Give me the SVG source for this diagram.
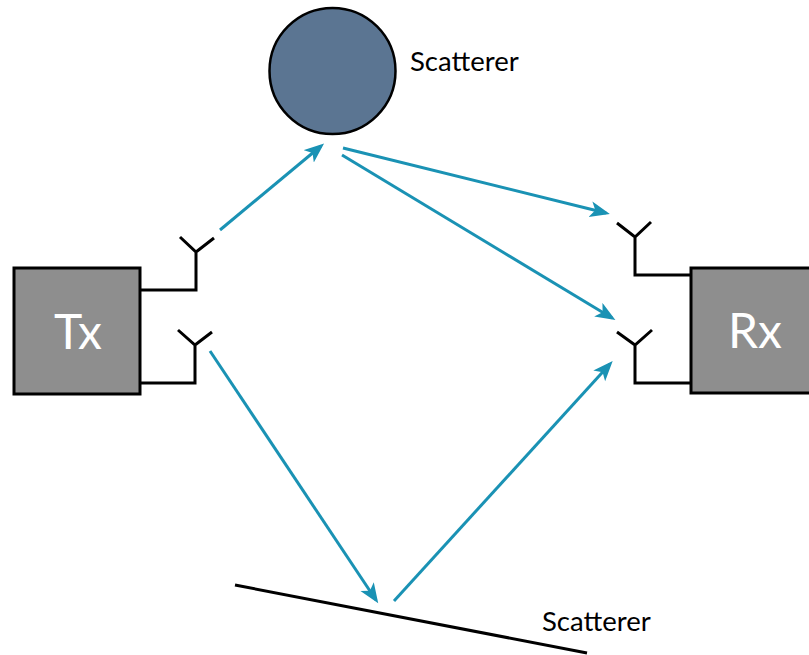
<svg xmlns="http://www.w3.org/2000/svg" width="809" height="655" viewBox="0 0 809 655">
<defs>
<style>
.box{fill:#8e8e8e;stroke:#000;stroke-width:3}
.ant{fill:none;stroke:#000;stroke-width:3;stroke-linejoin:miter}
.ray{fill:none;stroke:#1a92b4;stroke-width:3;marker-end:url(#ah)}
.lbl{font-family:"Lato","Liberation Sans",sans-serif;font-size:27.5px;fill:#000}
.big{font-family:"Lato","Liberation Sans",sans-serif;font-size:48px;fill:#fff;text-anchor:middle}
</style>
<marker id="ah" markerUnits="userSpaceOnUse" markerWidth="22" markerHeight="18" refX="16" refY="8" orient="auto">
<path d="M0,0 L20,8 L0,16 L5,8 Z" fill="#1a92b4"/>
</marker>
</defs>
<rect width="809" height="655" fill="#fff"/>
<g id="tx">
<rect class="box" x="14" y="268" width="126" height="126"/>
<text class="big" x="78" y="349">Tx</text>
<path class="ant" d="M140,290 H196 V252 M180,237 L196,252 L214,238"/>
<path class="ant" d="M140,383 H195 V345 M178,330 L195,345 L212,332"/>
</g>
<g id="rx">
<rect class="box" x="691" y="268" width="130" height="125"/>
<text class="big" x="755" y="348">Rx</text>
<path class="ant" d="M691,275 H635 V237 M617,223 L635,237 L651,222"/>
<path class="ant" d="M691,383 H635 V345 M617,332 L635,345 L652,330"/>
</g>
<g id="scatterer-top">
<circle cx="332.5" cy="71" r="63" fill="#5b7592" stroke="#000" stroke-width="2.5"/>
<text class="lbl" x="410" y="71">Scatterer</text>
</g>
<g id="scatterer-bottom">
<line x1="235" y1="585" x2="587" y2="653" stroke="#000" stroke-width="3"/>
<text class="lbl" x="542" y="631">Scatterer</text>
</g>
<g id="connectors">
<line class="ray" x1="220" y1="230" x2="321" y2="146"/>
<line class="ray" x1="343" y1="148" x2="606" y2="213"/>
<line class="ray" x1="342" y1="155" x2="612" y2="318"/>
<line class="ray" x1="210" y1="351" x2="376" y2="600"/>
<line class="ray" x1="394" y1="601" x2="610" y2="364"/>
</g>
</svg>
